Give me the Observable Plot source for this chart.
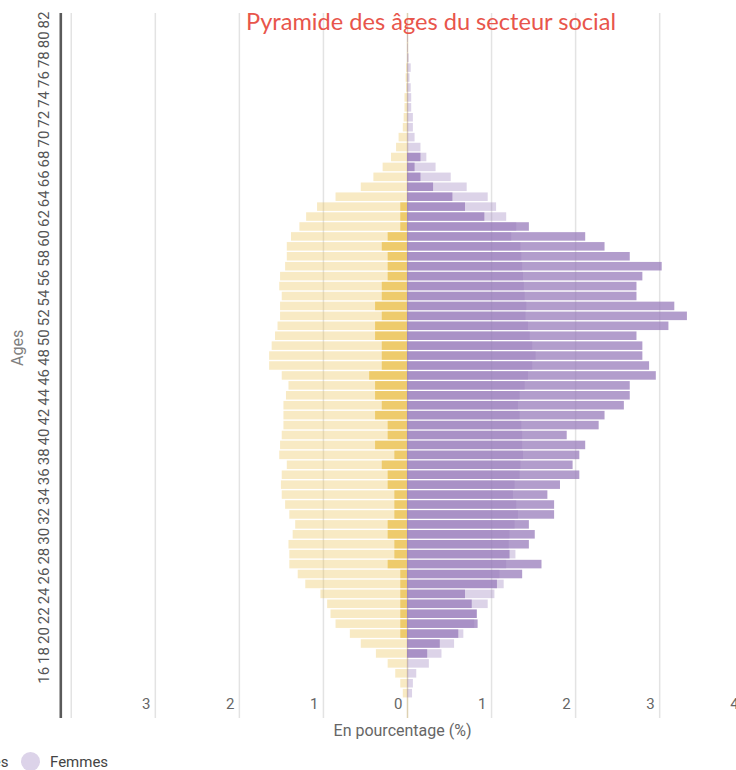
<!DOCTYPE html>
<html>
<head>
<meta charset="utf-8">
<script src="https://cdn.jsdelivr.net/npm/d3@7"></script>
<script src="https://cdn.jsdelivr.net/npm/@observablehq/plot@0.6"></script>
<style>
html, body { margin: 0; padding: 0; background: #fff; overflow: hidden; width: 736px; height: 770px; }
#wrap { position: relative; width: 736px; height: 770px; overflow: hidden; }
#chart { position: absolute; left: 0; top: 0; width: 760px; height: 748px; }
#chart svg { max-width: none !important; }
#title { position: absolute; top: 9px; left: 431px; transform: translateX(-50%); white-space: nowrap;
  font-family: Lato, sans-serif; font-size: 23.6px; line-height: 24px; color: #e8554b; }
.leg { position: absolute; top: 752px; height: 19px; display: flex; align-items: center; gap: 10px;
  font-family: Roboto, sans-serif; font-size: 15px; color: #444; white-space: nowrap; }
.dot { display: inline-block; width: 19px; height: 19px; border-radius: 50%; }
</style>
</head>
<body>
<div id="wrap">
  <div id="chart"></div>
  <div id="title">Pyramide des âges du secteur social</div>
  <div class="leg" style="right:727.5px"><span class="dot" style="background:#f7e8c2"></span><span>Hommes</span></div>
  <div class="leg" style="left:21px"><span class="dot" style="background:#dcd3e9"></span><span>Femmes</span></div>
</div>
<script>
// Ages (one bar per age)
const ages = [15,16,17,18,19,20,21,22,23,24,25,26,27,28,29,30,31,32,33,34,35,36,37,38,39,40,
  41,42,43,44,45,46,47,48,49,50,51,52,53,54,55,56,57,58,59,60,61,62,63,64,65,66,67,68,69,70,
  71,72,73,74,75,76,77,78,79,80,81,82,83];

// Hommes – pale bars (%)
const hommesPale = [0.05,0.08,0.14,0.23,0.37,0.55,0.68,0.85,0.91,0.95,1.03,1.21,1.30,1.40,1.40,1.41,
  1.36,1.33,1.40,1.45,1.49,1.50,1.49,1.43,1.52,1.51,1.49,1.47,1.47,1.47,1.44,1.41,1.49,1.64,1.64,1.61,
  1.57,1.54,1.51,1.51,1.49,1.52,1.51,1.45,1.43,1.43,1.38,1.28,1.20,1.07,0.85,0.55,0.40,0.29,0.19,0.13,
  0.10,0.05,0.04,0.03,0.03,0.01,0.016,0.01,0,0,0,0,0];
// Hommes – dark bars (%)
const hommesFonce = [0,0,0,0,0,0,0.08,0.08,0.08,0.08,0.08,0.08,0.08,0.23,0.15,0.15,
  0.23,0.23,0.15,0.15,0.15,0.23,0.23,0.30,0.15,0.38,0.23,0.23,0.38,0.30,0.38,0.38,0.45,0.30,0.30,0.30,
  0.38,0.38,0.30,0.38,0.30,0.30,0.23,0.23,0.23,0.30,0.23,0.08,0.08,0.08,0,0,0,0,0,0,
  0,0,0,0,0,0,0,0,0,0,0,0,0];
// Femmes – pale bars (%)
const femmesPale = [0.06,0.07,0.11,0.26,0.41,0.56,0.67,0.80,0.83,0.96,1.04,1.15,1.10,1.18,1.29,1.21,
  1.22,1.28,1.32,1.30,1.26,1.28,1.34,1.35,1.38,1.37,1.37,1.36,1.34,1.32,1.34,1.40,1.44,1.49,1.53,1.49,
  1.46,1.44,1.41,1.42,1.40,1.39,1.38,1.37,1.36,1.35,1.24,1.30,1.18,1.06,0.96,0.71,0.52,0.34,0.23,0.16,
  0.09,0.07,0.07,0.05,0.05,0.044,0.03,0.044,0.02,0.01,0.01,0.005,0];
// Femmes – dark bars (%)
const femmesFonce = [0,0,0,0,0.24,0.39,0.61,0.84,0.83,0.77,0.69,1.07,1.37,1.60,1.22,1.45,
  1.52,1.45,1.75,1.75,1.67,1.82,2.05,1.97,2.05,2.12,1.90,2.28,2.35,2.58,2.65,2.65,2.96,2.88,2.80,2.80,
  2.73,3.11,3.33,3.18,2.73,2.73,2.80,3.03,2.65,2.35,2.12,1.45,0.92,0.69,0.54,0.31,0.16,0.09,0.16,0,
  0,0,0,0,0,0,0,0,0,0,0,0,0];

// Axis ticks
const ageTicks = [16,18,20,22,24,26,28,30,32,34,36,38,40,42,44,46,48,50,52,54,56,58,60,62,64,66,68,70,72,74,76,78,80,82];
const gridTicks = [-4,-3,-2,-1,0,1,2,3,4];
const xTickLabels = [-3,-2,-1,0,1,2,3,4];
const xDomain = [-4.14, 4.14];
const yDomain = d3.range(83, 12, -1);

const rows = ages.map((age, i) => ({
  age, hP: hommesPale[i], hF: hommesFonce[i], fP: femmesPale[i], fF: femmesFonce[i]
}));

const yellow = "#eac04c", purple = "#9678b9";

const chart = Plot.plot({
  width: 760,
  height: 748,
  marginLeft: 59,
  marginRight: 5,
  marginTop: 13,
  marginBottom: 30,
  style: { fontFamily: "Roboto, sans-serif", fontSize: "15px", color: "#666", background: "transparent", overflow: "visible", maxWidth: "none" },
  x: { domain: xDomain, axis: null },
  y: { type: "band", domain: yDomain, paddingInner: 0.14, paddingOuter: 0.07, axis: null },
  marks: [
    Plot.ruleX(gridTicks, { x: d => d, stroke: d => d === 0 ? "#ddd1b2" : "#e3e3e3", strokeWidth: 1.5 }),
    Plot.barX(rows, { x1: 0, x2: d => -d.hP, y: "age", fill: yellow, fillOpacity: 0.33 }),
    Plot.barX(rows, { x1: 0, x2: d => d.fP, y: "age", fill: purple, fillOpacity: 0.33 }),
    Plot.barX(rows, { x1: 0, x2: d => -d.hF, y: "age", fill: yellow, fillOpacity: 0.73 }),
    Plot.barX(rows, { x1: 0, x2: d => d.fF, y: "age", fill: purple, fillOpacity: 0.73 }),
    Plot.ruleX([xDomain[0]], { x: d => d, stroke: "#5a5a5a", strokeWidth: 2.6, dx: 1.3 }),
    Plot.text(ageTicks, { y: d => d, text: d => String(d), frameAnchor: "left", dx: -15, rotate: -90,
      fill: "#555", fontSize: 15 }),
    Plot.text(xTickLabels, { x: d => d, text: d => String(Math.abs(d)), frameAnchor: "bottom", dy: -10, dx: -5,
      textAnchor: "end", fill: "#666", fontSize: 15 }),
    Plot.text(["Ages"], { text: d => d, frameAnchor: "left", dx: -42, rotate: -90, fill: "#808080", fontSize: 16 }),
    Plot.text(["En pourcentage (%)"], { text: d => d, frameAnchor: "bottom", dy: 17, dx: -5, fill: "#666", fontSize: 16 })
  ]
});
document.getElementById("chart").appendChild(chart);
</script>
</body>
</html>
